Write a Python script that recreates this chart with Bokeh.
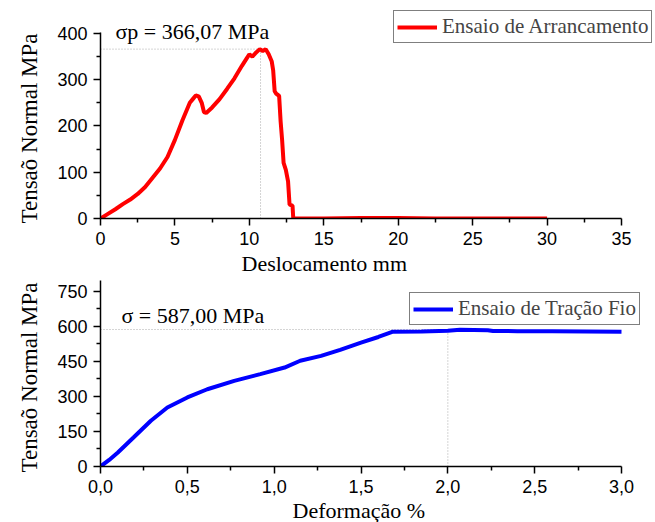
from bokeh.plotting import figure
from bokeh.layouts import column
from bokeh.models import Range1d, FixedTicker, Label, Legend, LegendItem, Title
from bokeh.embed import file_html
from bokeh.resources import INLINE

# ---------------- data ----------------
# Ensaio de Arrancamento (pull-out test): displacement mm vs stress MPa
pull_x = [0.0, 0.5, 1.0, 1.5, 2.0, 2.5, 3.0, 3.5, 4.0, 4.5, 5.0, 5.5, 6.0, 6.2, 6.4,
          6.6, 6.8, 6.95, 7.1, 7.5, 8.0, 8.5, 9.0, 9.5, 9.8, 10.0, 10.2, 10.4, 10.7,
          10.9, 11.1, 11.3, 11.5, 11.6, 11.7, 11.8, 12.0, 12.1, 12.2, 12.3, 12.45,
          12.6, 12.7, 12.9, 12.95, 15.0, 17.5, 20.0, 22.5, 25.0, 27.5, 30.0]
pull_y = [0, 10, 20, 31, 41, 53, 68, 88, 108, 133, 170, 212, 250, 258, 266,
          264, 250, 230, 228, 240, 258, 280, 303, 330, 345, 355, 350, 357, 366,
          362, 366, 355, 340, 320, 275, 270, 265, 210, 170, 120, 105,
          80, 30, 28, 0, 0, 1, 1, 0, 0, 0, 0]

# Ensaio de Tração Fio (wire tensile test): strain % vs stress MPa
tens_x = [0.0, 0.05, 0.1, 0.19, 0.29, 0.385, 0.5, 0.615, 0.77, 0.92, 1.06, 1.15,
          1.27, 1.38, 1.5, 1.6, 1.68, 1.85, 2.0, 2.07, 2.23, 2.26, 2.4, 2.6, 2.8, 3.0]
tens_y = [0, 28, 60, 124, 196, 253, 296, 331, 367, 396, 424, 453,
          474, 500, 531, 555, 577, 579, 582, 586, 584, 581, 580, 580, 579, 577]

top_xticks = [0, 5, 10, 15, 20, 25, 30, 35]
top_yticks = [0, 100, 200, 300, 400]
bot_xticks = [0.0, 0.5, 1.0, 1.5, 2.0, 2.5, 3.0]
bot_xlabels = ["0,0", "0,5", "1,0", "1,5", "2,0", "2,5", "3,0"]
bot_yticks = [0, 150, 300, 450, 600, 750]

pull_peak = 366.07
pull_peak_x = 10.75
tens_peak = 587.00
tens_peak_x = 2.0

SERIF = "Liberation Serif"
SANS = "Liberation Sans"


def style_axes(p, xt, xminor, xbounds, yt, yminor, ybounds):
    p.xaxis.ticker = FixedTicker(ticks=xt, minor_ticks=xminor)
    p.yaxis.ticker = FixedTicker(ticks=yt, minor_ticks=yminor)
    p.xaxis.bounds = xbounds
    p.yaxis.bounds = ybounds
    for ax in (p.xaxis[0], p.yaxis[0]):
        ax.axis_line_width = 1.5
        ax.axis_line_color = "black"
        ax.major_tick_line_width = 1.5
        ax.minor_tick_line_width = 1.5
        ax.major_tick_in = 0
        ax.major_tick_out = 7
        ax.minor_tick_in = 0
        ax.minor_tick_out = 4
        ax.major_label_text_font = SANS
        ax.major_label_text_font_size = "18px"
        ax.major_label_text_color = "black"
    p.xaxis.major_label_standoff = 6
    p.yaxis.major_label_standoff = 6
    p.grid.visible = False
    p.outline_line_color = None


def title(text, align, offset, standoff, size):
    return Title(text=text, align=align, offset=offset, standoff=standoff,
                 text_font=SERIF, text_font_size=size,
                 text_font_style="normal", text_color="black")


# ---------------- top plot ----------------
# frame spans x 100..655 and y 0..218 of the canvas; axes are bounded to the data box
p1 = figure(width=655, height=280, x_range=Range1d(0, 35 * 555 / 521),
            y_range=Range1d(0, 402 * 218 / 186),
            output_backend="svg", toolbar_location=None,
            min_border_left=100, min_border_right=0, min_border_top=0, min_border_bottom=62)
style_axes(p1, top_xticks, [2.5 + 5 * i for i in range(7)], (0, 35),
           top_yticks, [50, 150, 250, 350], (0, 402))

p1.line([0, pull_peak_x], [pull_peak, pull_peak], line_color="#aaaaaa",
        line_width=1, line_dash="1 2")
p1.line([pull_peak_x, pull_peak_x], [0, pull_peak], line_color="#aaaaaa",
        line_width=1, line_dash="1 2")
r1 = p1.line(pull_x, pull_y, line_color="#ff0000", line_width=4)

p1.add_layout(Label(x=1.0, y=404, text="σp = 366,07 MPa",
                    text_font=SERIF, text_font_size="22px",
                    text_baseline="alphabetic", text_align="left", text_color="black"))

p1.add_layout(title("Deslocamento mm", "left", 141, 3, "22px"), "below")
p1.add_layout(title("Tensaõ Normal MPa", "left", -5, 26, "23px"), "left")

leg1 = Legend(items=[LegendItem(label="Ensaio de Arrancamento", renderers=[r1])],
              location=(293, 175), orientation="vertical",
              label_text_font=SERIF, label_text_font_size="21px",
              glyph_width=40, glyph_height=20, label_standoff=5, padding=3,
              margin=0, spacing=0, border_line_color="black", border_line_width=1,
              background_fill_alpha=1)
p1.add_layout(leg1, "center")

# ---------------- bottom plot ----------------
p2 = figure(width=655, height=242, x_range=Range1d(0, 3.0 * 555 / 521), y_range=Range1d(0, 797),
            output_backend="svg", toolbar_location=None,
            min_border_left=100, min_border_right=0, min_border_top=0, min_border_bottom=56)
style_axes(p2, bot_xticks, [0.25 + 0.5 * i for i in range(6)], (0, 3.0),
           bot_yticks, [75, 225, 375, 525, 675], (0, 797))
p2.xaxis.major_label_overrides = {t: s for t, s in zip(bot_xticks, bot_xlabels)}

p2.line([0, tens_peak_x], [tens_peak, tens_peak], line_color="#aaaaaa",
        line_width=1, line_dash="1 2")
p2.line([tens_peak_x, tens_peak_x], [0, tens_peak], line_color="#aaaaaa",
        line_width=1, line_dash="1 2")
r2 = p2.line(tens_x, tens_y, line_color="#0000ff", line_width=4)

p2.add_layout(Label(x=0.121, y=647, text="σ = 587,00 MPa",
                    text_font=SERIF, text_font_size="22px",
                    text_baseline="alphabetic", text_align="left", text_color="black"))

p2.add_layout(title("Deformação %", "left", 192, 0, "22px"), "below")
p2.add_layout(title("Tensaõ Normal MPa", "left", -6, 26, "23px"), "left")

leg2 = Legend(items=[LegendItem(label="Ensaio de Tração Fio", renderers=[r2])],
              location=(309, 141), orientation="vertical",
              label_text_font=SERIF, label_text_font_size="21px",
              glyph_width=40, glyph_height=20, label_standoff=5, padding=3,
              margin=0, spacing=0, border_line_color="black", border_line_width=1,
              background_fill_alpha=1)
p2.add_layout(leg2, "center")

layout = column(p1, p2, spacing=0)
open("out.html", "w").write(file_html(layout, INLINE))
